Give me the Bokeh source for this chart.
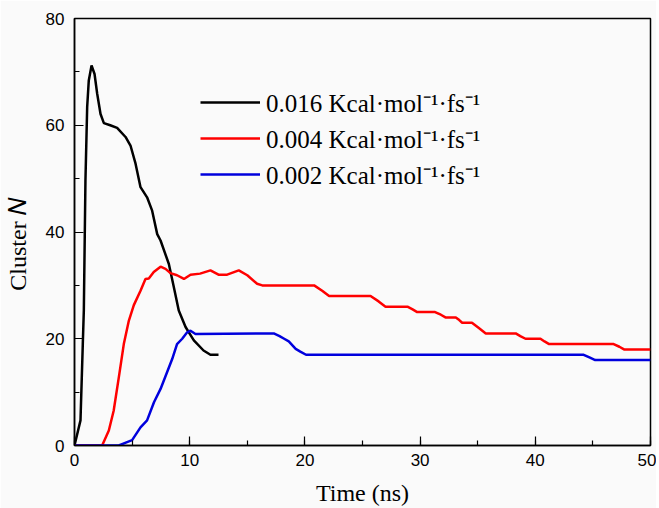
from bokeh.plotting import figure
from bokeh.models import Range1d, SingleIntervalTicker, Legend, LegendItem
from bokeh.embed import file_html
from bokeh.resources import INLINE

# ---------------- data ----------------
black_t = [0, 0.52, 0.72, 0.81, 0.95, 1.1, 1.24, 1.48, 1.74, 1.97, 2.26, 2.55, 3.1, 3.7,
           4.43, 4.86, 5.3, 5.73, 6.3, 6.74, 7.18, 7.47, 8.19, 8.62, 9.05, 9.64, 10.36,
           11.2, 11.8, 12.5]
black_N = [0, 4.7, 19, 25.3, 49.6, 63.4, 68.4, 71.2, 69.6, 65.9, 62.1, 60.4, 60, 59.5,
           57.8, 56.2, 52.8, 48.4, 46.5, 44, 39.6, 38.4, 34, 29.7, 25.3, 22.2, 19.7,
           17.8, 17, 17]

red_t = [0, 2.4, 2.98, 3.4, 3.85, 4.28, 4.72, 5.15, 5.73, 6.16, 6.45, 6.88, 7.47, 7.9,
         8.33, 8.9, 9.5, 10.07, 10.9, 11.8, 12.5, 13.25, 14.26, 15.0, 15.85, 16.3, 20.8,
         21.5, 22.1, 25.7, 26.4, 27.0, 28.9, 29.35, 29.75, 31.3, 31.8, 32.2, 33.1, 33.4,
         33.65, 34.5, 35.1, 35.7, 38.3, 38.7, 39.15, 40.45, 40.8, 41.2, 46.8, 47.3, 47.7,
         50]
red_N = [0, 0, 2.8, 6.5, 12.8, 19, 23.4, 26.3, 29, 31.2, 31.3, 32.5, 33.5, 33.1,
         32.3, 31.9, 31.2, 32, 32.2, 32.8, 32, 32, 32.8, 31.9, 30.3, 30, 30,
         29, 28, 28, 27, 26, 26, 25.5, 25, 25, 24.5, 24, 24, 23.5,
         23, 23, 22, 21, 21, 20.5, 20, 20, 19.5, 19, 19, 18.5, 18,
         18]

blue_t = [0, 3.85, 4.4, 5.0, 5.73, 6.3, 6.9, 7.47, 8.48, 8.9, 9.35, 9.78, 10.07, 10.5,
          17.3, 17.8, 18.2, 18.6, 19.2, 19.6, 20.1, 44.2, 44.7, 45.2, 50]
blue_N = [0, 0, 0.5, 1, 3.4, 4.7, 8.1, 10.6, 16.2, 19, 20, 21.2, 21.5, 20.9,
          21, 20.5, 20, 19.5, 18.1, 17.6, 17, 17, 16.5, 16, 16]

series_labels = ["0.016 Kcal\u00b7mol\u207b\u00b9\u00b7fs\u207b\u00b9",
                 "0.004 Kcal\u00b7mol\u207b\u00b9\u00b7fs\u207b\u00b9",
                 "0.002 Kcal\u00b7mol\u207b\u00b9\u00b7fs\u207b\u00b9"]
series_colors = ["#000000", "#ff0000", "#0000dd"]

x_title = "Time (ns)"
y_title = "Cluster \U0001D441\u00a0\u00a0\u00a0\u00a0"

x_ticks_interval = 10
y_ticks_interval = 20

# ---------------- figure ----------------
BG = "#fafafa"
p = figure(width=656, height=508, output_backend="svg", toolbar_location=None,
           x_range=Range1d(0, 50), y_range=Range1d(0, 80),
           min_border_left=74, min_border_right=6, min_border_top=18, min_border_bottom=63)
p.background_fill_color = BG
p.border_fill_color = BG
p.grid.visible = False
p.outline_line_color = "black"
p.outline_line_width = 1.5

p.xaxis.ticker = SingleIntervalTicker(interval=x_ticks_interval, num_minor_ticks=2)
p.yaxis.ticker = SingleIntervalTicker(interval=y_ticks_interval, num_minor_ticks=2)
for ax in (p.xaxis, p.yaxis):
    ax.axis_line_width = 1.5
    ax.major_tick_in = 9
    ax.major_tick_out = 0
    ax.minor_tick_in = 5
    ax.minor_tick_out = 0
    ax.major_tick_line_width = 1.2
    ax.minor_tick_line_width = 1.2
    ax.major_label_text_font = "Liberation Sans"
    ax.major_label_text_font_size = "17px"
    ax.major_label_text_color = "black"
    ax.axis_label_text_font = "Liberation Serif"
    ax.axis_label_text_font_style = "normal"
    ax.axis_label_text_font_size = "24px"
    ax.axis_label_text_color = "black"
p.xaxis.major_label_standoff = 8
p.yaxis.major_label_standoff = 10

p.xaxis.axis_label = x_title
p.xaxis.axis_label_standoff = 11
p.yaxis.axis_label = y_title
p.yaxis.axis_label_standoff = 12

renderers = []
for t, n, c in zip([black_t, red_t, blue_t], [black_N, red_N, blue_N], series_colors):
    r = p.line(t, n, line_color=c, line_width=2.5)
    renderers.append(r)

legend = Legend(items=[LegendItem(label=l, renderers=[r]) for l, r in zip(series_labels, renderers)],
                location=(126, 253), border_line_color=None, background_fill_alpha=0,
                padding=0, margin=0, spacing=0, glyph_width=60, glyph_height=36,
                label_height=36, label_standoff=6, label_text_color="black",
                label_text_font="Liberation Serif", label_text_font_size="25px")
p.add_layout(legend, "center")

open("out.html", "w").write(file_html(p, INLINE))
